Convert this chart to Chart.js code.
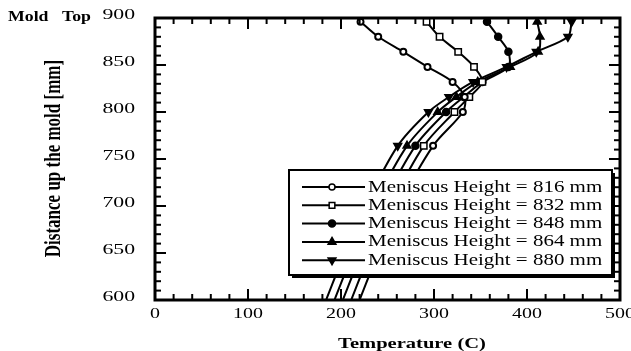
<!DOCTYPE html>
<html>
<head>
<meta charset="utf-8">
<script src="https://cdn.jsdelivr.net/npm/chart.js@4.4.0/dist/chart.umd.min.js"></script>
<style>
  html, body { margin: 0; padding: 0; background: #fff; }
  #mold { display: block; }
</style>
</head>
<body>
<canvas id="mold" width="631" height="351"></canvas>
<script>
// heights up the mold (mm) where the temperature was taken
var heights = [896, 880, 864, 848, 832, 816, 800, 764, 700, 650, 600];
// the lower points only carry the line, no symbol
var markerMask = [1, 1, 1, 1, 1, 1, 1, 1, 0, 0, 0];

var meniscus = [816, 832, 848, 864, 880];

// temperature (C) at each height, one list per meniscus level
var temp816 = [221, 240, 267, 293, 320, 333, 331, 299, 262, 240, 220];
var temp832 = [292, 306, 326, 343, 352, 338, 322, 289, 253, 231, 211];
var temp848 = [357, 369, 380, 380, 352, 332, 313, 280, 244, 222, 202];
var temp864 = [411, 414, 412, 382, 347, 324, 304, 271, 235, 213, 193];
var temp880 = [448, 444, 410, 378, 342, 316, 294, 261, 226, 204, 184];

var xTicks = [0, 100, 200, 300, 400, 500];
var yTicks = [600, 650, 700, 750, 800, 850, 900];

var SERIF = "'Liberation Serif', 'Times New Roman', serif";

function series(h, temps, style, fill, r, bw, rot) {
    return {
        label: 'Meniscus Height = ' + h + ' mm',
        data: temps.map(function (t, i) { return { x: t, y: heights[i] }; }),
        showLine: true,
        tension: 0.3,
        borderColor: '#000',
        borderWidth: 2,
        pointStyle: style,
        pointRotation: rot || 0,
        pointRadius: markerMask.map(function (m) { return m ? r : 0; }),
        pointBackgroundColor: fill,
        pointBorderColor: '#000',
        pointBorderWidth: bw
    };
}

function line(ctx, x1, y1, x2, y2) {
    ctx.beginPath();
    ctx.moveTo(x1, y1);
    ctx.lineTo(x2, y2);
    ctx.stroke();
}

// the old figure fonts are wide, so text gets a horizontal stretch
function wideText(ctx, text, x, y, sx, align) {
    ctx.save();
    ctx.translate(x, y);
    ctx.scale(sx, 1);
    ctx.textAlign = align;
    ctx.fillText(text, 0, 0);
    ctx.restore();
}

var legendRadius = [3, 4, 3.5, 4.5, 4.5];

var moldFrame = {
    id: 'moldFrame',
    afterDatasetsDraw: function (chart) {
        var ctx = chart.ctx, area = chart.chartArea;
        var sx = chart.scales.x, sy = chart.scales.y;
        ctx.save();
        ctx.strokeStyle = '#000';
        ctx.fillStyle = '#000';

        // inward ticks on all four sides
        ctx.lineWidth = 2;
        for (var t = 0; t <= 500; t += 20) {
            var px = sx.getPixelForValue(t);
            var len = t % 100 === 0 ? 11 : 6;
            line(ctx, px, area.bottom, px, area.bottom - len);
            line(ctx, px, area.top, px, area.top + len);
        }
        for (var h = 600; h <= 900; h += 10) {
            var py = sy.getPixelForValue(h);
            var len2 = h % 50 === 0 ? 11 : 6;
            line(ctx, area.left, py, area.left + len2, py);
            line(ctx, area.right, py, area.right - len2, py);
        }
        ctx.lineWidth = 3;
        ctx.strokeRect(area.left, area.top, area.right - area.left, area.bottom - area.top);

        // tick labels
        ctx.font = '15px ' + SERIF;
        ctx.textBaseline = 'alphabetic';
        xTicks.forEach(function (v) {
            wideText(ctx, String(v), sx.getPixelForValue(v), 318, 1.33, 'center');
        });
        ctx.textBaseline = 'middle';
        yTicks.forEach(function (v) {
            wideText(ctx, String(v), 135, sy.getPixelForValue(v) - 2.5, 1.45, 'right');
        });

        // axis titles
        ctx.textBaseline = 'alphabetic';
        ctx.font = 'bold 15px ' + SERIF;
        wideText(ctx, 'Temperature (C)', 412, 348, 1.37, 'center');
        ctx.font = 'bold 14px ' + SERIF;
        wideText(ctx, 'Mold', 8, 21, 1.27, 'left');
        wideText(ctx, 'Top', 62, 21, 1.27, 'left');

        ctx.save();
        ctx.translate(60, 158.5);
        ctx.rotate(-Math.PI / 2);
        ctx.scale(1, 1.3);
        ctx.font = 'bold 17px ' + SERIF;
        ctx.textAlign = 'center';
        ctx.fillText('Distance up the mold [mm]', 0, 0);
        ctx.restore();

        // legend box with drop shadow
        var bx = 289, by = 170, bw = 323, bh = 105;
        ctx.fillStyle = '#000';
        ctx.fillRect(bx + 3, by + 3, bw, bh);
        ctx.fillStyle = '#fff';
        ctx.fillRect(bx, by, bw, bh);
        ctx.lineWidth = 2;
        ctx.strokeRect(bx, by, bw, bh);

        ctx.font = '16px ' + SERIF;
        chart.data.datasets.forEach(function (ds, i) {
            var ly = 187 + i * 18.3;
            ctx.strokeStyle = '#000';
            ctx.lineWidth = 2;
            line(ctx, 302, ly, 365, ly);
            ctx.fillStyle = ds.pointBackgroundColor;
            ctx.lineWidth = 1.5;
            Chart.helpers.drawPoint(ctx, {
                pointStyle: ds.pointStyle,
                rotation: ds.pointRotation,
                radius: legendRadius[i],
                borderWidth: 1.5
            }, 332, ly);
            ctx.fillStyle = '#000';
            wideText(ctx, ds.label, 368, ly + 4.5, 1.31, 'left');
        });
        ctx.restore();
    }
};

new Chart(document.getElementById('mold'), {
    type: 'scatter',
    data: {
        datasets: [
            series(meniscus[0], temp816, 'circle', '#fff', 3, 2),
            series(meniscus[1], temp832, 'rect', '#fff', 4.5, 1.5),
            series(meniscus[2], temp848, 'circle', '#000', 3.5, 1.5),
            series(meniscus[3], temp864, 'triangle', '#000', 4.5, 1.5),
            series(meniscus[4], temp880, 'triangle', '#000', 4.5, 1.5, 180)
        ]
    },
    options: {
        responsive: false,
        animation: false,
        layout: { padding: { left: 155, right: 11, top: 18, bottom: 51 } },
        scales: {
            x: { type: 'linear', min: 0, max: 500, display: false },
            y: { type: 'linear', min: 600, max: 900, display: false }
        },
        plugins: {
            legend: { display: false },
            tooltip: { enabled: false }
        }
    },
    plugins: [moldFrame]
});
</script>
</body>
</html>
